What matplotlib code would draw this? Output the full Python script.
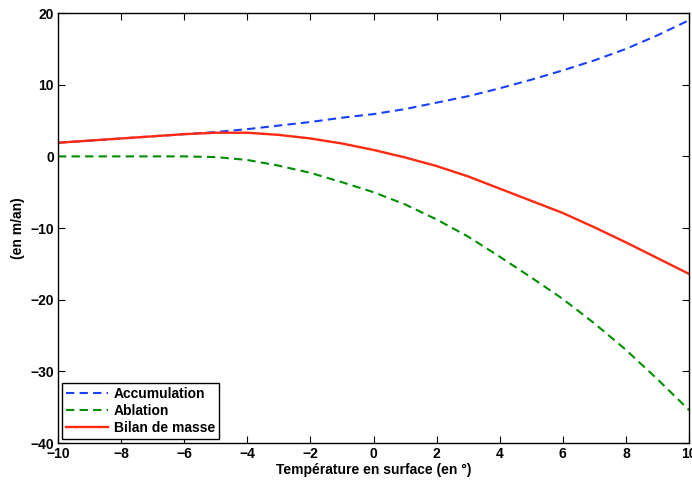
import matplotlib
matplotlib.use("Agg")
import matplotlib.pyplot as plt

# Temperature en surface (axe x)
temperature = [-10, -9, -8, -7, -6, -5, -4, -3, -2, -1, 0,
               1, 2, 3, 4, 5, 6, 7, 8, 9, 10]

# valeurs (en m/an)
accumulation = [1.9, 2.2, 2.5, 2.8, 3.1, 3.4, 3.8, 4.3, 4.8, 5.4, 5.9,
                6.6, 7.5, 8.4, 9.5, 10.7, 12.0, 13.4, 15.0, 16.9, 19.0]
ablation = [0.0, 0.0, 0.0, 0.0, 0.0, -0.1, -0.5, -1.3, -2.3, -3.6, -5.0,
            -6.7, -8.8, -11.2, -14.0, -16.9, -19.9, -23.3, -27.0, -31.1, -35.4]
bilan = [1.9, 2.2, 2.5, 2.8, 3.1, 3.3, 3.3, 3.0, 2.5, 1.8, 0.9,
         -0.15, -1.35, -2.8, -4.5, -6.2, -7.9, -9.9, -12.0, -14.2, -16.4]

xticks = [-10, -8, -6, -4, -2, 0, 2, 4, 6, 8, 10]
yticks = [-40, -30, -20, -10, 0, 10, 20]

plt.rcParams["font.family"] = ["Liberation Sans", "DejaVu Sans"]
plt.rcParams["font.weight"] = "bold"
plt.rcParams["font.size"] = 10


def main():
    fig = plt.figure(figsize=(6.92, 4.84), dpi=100)
    ax = fig.add_axes([0.0838, 0.0847, 0.9119, 0.8883])

    ax.plot(temperature, accumulation, color="#1a40ff", lw=1.5,
            dashes=(4, 2.5), label="Accumulation")
    ax.plot(temperature, ablation, color="#008f00", lw=1.5,
            dashes=(4, 2.5), label="Ablation")
    ax.plot(temperature, bilan, color="#ff2a10", lw=1.7,
            label="Bilan de masse")

    ax.set_xlim(-10, 10)
    ax.set_ylim(-40, 20)
    ax.set_xticks(xticks)
    ax.set_yticks(yticks)
    ax.tick_params(direction="in", top=True, right=True, length=5,
                   width=0.8, pad=3)
    for s in ax.spines.values():
        s.set_linewidth(1.0)

    ax.set_xlabel("Température en surface (en °)", fontweight="bold",
                  labelpad=1)
    ax.set_ylabel("(en m/an)", fontweight="bold", labelpad=4)

    leg = ax.legend(loc="lower left", handlelength=3.0, handletextpad=0.4,
                    borderpad=0.3, labelspacing=0.2, borderaxespad=0.3,
                    fancybox=False, framealpha=1)
    leg.get_frame().set_edgecolor("black")
    leg.get_frame().set_linewidth(1.0)

    fig.savefig("out.png", dpi=100)


if __name__ == "__main__":
    main()
